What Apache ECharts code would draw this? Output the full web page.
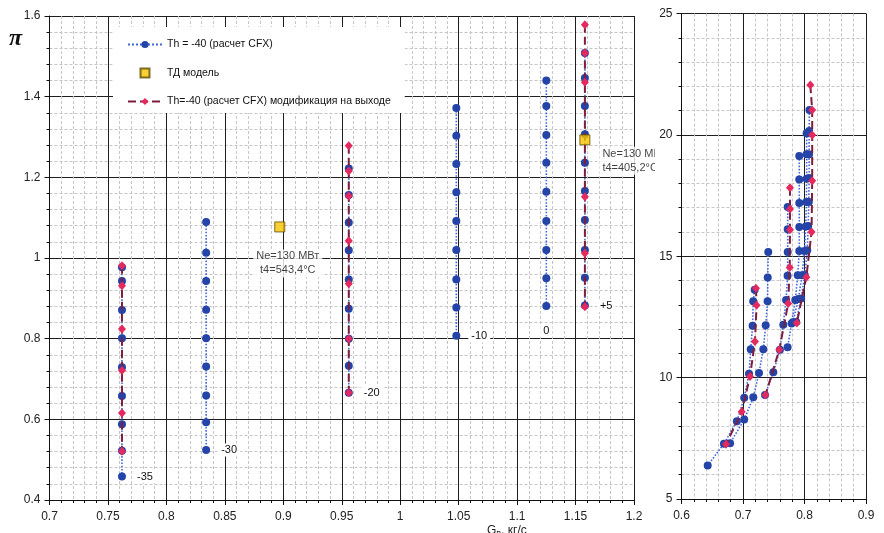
<!DOCTYPE html>
<html>
<head>
<meta charset="utf-8">
<script src="https://cdn.jsdelivr.net/npm/echarts@6/dist/echarts.min.js"></script>
<style>
html, body { margin: 0; padding: 0; background: #fff; }
#wrap { position: relative; width: 884px; height: 533px; overflow: hidden; background: #fff; }
#left { position: absolute; left: 0; top: 0; width: 655px; height: 533px; }
#right { position: absolute; left: 655px; top: 0; width: 229px; height: 533px; background: #fff; }
</style>
</head>
<body>
<div id="wrap"><div id="left"></div><div id="right"></div></div>
<script>
// ---- Left plot: pressure ratio vs air flow, one throttle line per inlet temperature ----
const tempLabels = ['-35', '-30', '-20', '-10', '0', '+5'];
const flowCfx = [0.762, 0.834, 0.956, 1.048, 1.125, 1.158];
const piCfxM35 = [0.977, 0.943, 0.871, 0.801, 0.729, 0.658, 0.588, 0.522, 0.458];
const piCfxM30 = [1.089, 1.013, 0.943, 0.872, 0.801, 0.731, 0.659, 0.593, 0.524];
const piCfxM20 = [1.222, 1.156, 1.088, 1.019, 0.947, 0.874, 0.800, 0.733, 0.666];
const piCfxM10 = [1.372, 1.303, 1.233, 1.163, 1.092, 1.020, 0.947, 0.877, 0.807];
const piCfx0   = [1.440, 1.377, 1.305, 1.236, 1.164, 1.092, 1.020, 0.950, 0.881];
const piCfxP5  = [1.508, 1.446, 1.377, 1.307, 1.236, 1.166, 1.094, 1.020, 0.951, 0.882];

// lines with the modified outlet
const flowMod = [0.762, 0.956, 1.158];
const piModM35 = [0.981, 0.931, 0.824, 0.721, 0.616, 0.521];
const piModM20 = [1.278, 1.216, 1.154, 1.043, 0.936, 0.800, 0.666];
const piModP5  = [1.578, 1.508, 1.436, 1.152, 1.012, 0.879];

// thermodynamic model points
const flowTd = [0.897, 1.158];
const piTd = [1.077, 1.293];
const tdNotes = ['Ne=130 МВт\nt4=543,4°C', 'Ne=130 МВт\nt4=405,2°C'];

// ---- Right plot: the same lines in absolute coordinates ----
const rxM35 = [0.719, 0.7166, 0.7156, 0.7125, 0.7098, 0.702, 0.690, 0.669, 0.6426];
const ryM35 = [13.62, 13.15, 12.14, 11.17, 10.16, 9.17, 8.20, 7.28, 6.38];
const rxM30 = [0.7411, 0.7402, 0.7400, 0.7369, 0.733, 0.726, 0.7167, 0.702, 0.679];
const ryM30 = [15.18, 14.12, 13.15, 12.16, 11.17, 10.19, 9.19, 8.27, 7.30];
const rxM20 = [0.7727, 0.7727, 0.7727, 0.7725, 0.770, 0.7655, 0.760, 0.7493, 0.7358];
const ryM20 = [17.03, 16.11, 15.17, 14.20, 13.20, 12.18, 11.15, 10.22, 9.28];
const rxM10 = [0.7915, 0.7915, 0.7915, 0.7915, 0.7915, 0.789, 0.785, 0.779, 0.7725];
const ryM10 = [19.13, 18.16, 17.19, 16.21, 15.22, 14.22, 13.20, 12.23, 11.25];
const rx0   = [0.8035, 0.8035, 0.8035, 0.803, 0.802, 0.800, 0.796, 0.790, 0.781];
const ry0   = [20.07, 19.20, 18.19, 17.23, 16.23, 15.22, 14.22, 13.24, 12.28];
const rxP5  = [0.808, 0.8075, 0.8075, 0.8075, 0.807, 0.806, 0.8045, 0.8005, 0.7945, 0.7865];
const ryP5  = [21.02, 20.16, 19.20, 18.22, 17.23, 16.25, 15.25, 14.22, 13.26, 12.29];

const rxModM35 = [0.7211, 0.7221, 0.7194, 0.7114, 0.6979, 0.6724];
const ryModM35 = [13.68, 12.98, 11.49, 10.05, 8.59, 7.26];
const rxModM20 = [0.7764, 0.7764, 0.7764, 0.776, 0.7735, 0.759, 0.7365];
const ryModM20 = [17.82, 16.95, 16.09, 14.54, 13.05, 11.15, 9.28];
const rxModP5  = [0.8095, 0.8125, 0.8125, 0.8125, 0.8115, 0.803, 0.7875];
const ryModP5  = [22.05, 21.02, 20.00, 18.11, 16.00, 14.14, 12.25];

const NAME_CFX = 'Th = -40 (расчет CFX)';
const NAME_TD = 'ТД модель';
const NAME_MOD = 'Th=-40 (расчет CFX) модификация на выходе';

const FONT = '"Liberation Sans", Arial, sans-serif';

function valueAxis(min, max, interval, margin) {
  return {
    type: 'value', min: min, max: max, interval: interval,
    axisLine: { show: true, onZero: false, lineStyle: { color: '#111', width: 1 } },
    axisTick: { show: true, length: 5, lineStyle: { color: '#111' } },
    minorTick: { show: true, splitNumber: 5, length: 3, lineStyle: { color: '#111' } },
    splitLine: { show: true, lineStyle: { color: '#1e1e1e', width: 1 } },
    minorSplitLine: { show: true, lineStyle: { color: '#c6c6c6', width: 1, type: [3, 2] } },
    axisLabel: { color: '#222', fontSize: 12, fontFamily: FONT, margin: margin }
  };
}

const blueStyle = {
  symbol: 'circle', symbolSize: 8,
  itemStyle: { color: '#2444a8' },
  lineStyle: { type: 'dotted', width: 1.6, color: '#4468dc' }
};
const redStyle = {
  symbol: 'diamond', symbolSize: [8, 9],
  itemStyle: { color: '#e4295f' },
  lineStyle: { type: [8, 4], width: 2, color: '#7e1e3e' }
};

function lineSeries(name, pts, style, z) {
  return Object.assign({
    type: 'line', name: name, data: pts, z: z,
    showAllSymbol: true, animation: false, clip: false
  }, style);
}

// ---- left chart ----
const cfxColumns = [piCfxM35, piCfxM30, piCfxM20, piCfxM10, piCfx0, piCfxP5];
const modColumns = [piModM35, piModM20, piModP5];

const leftSeries = [];
cfxColumns.forEach(function (col, i) {
  const pts = col.map(function (p, k) {
    const item = { value: [flowCfx[i], p] };
    if (k === col.length - 1) {
      const below = tempLabels[i] === '0';
      item.label = {
        show: true, formatter: tempLabels[i],
        position: below ? 'bottom' : 'right', distance: below ? 14 : 8,
        color: '#111', fontSize: 11, fontFamily: FONT,
        backgroundColor: '#fff', padding: [1, 3]
      };
    }
    return item;
  });
  leftSeries.push(lineSeries(NAME_CFX, pts, blueStyle, 2));
});
modColumns.forEach(function (col, i) {
  const pts = col.map(function (p) { return [flowMod[i], p]; });
  leftSeries.push(lineSeries(NAME_MOD, pts, redStyle, 3));
});
leftSeries.push({
  type: 'scatter', name: NAME_TD, z: 4, animation: false,
  symbol: 'rect', symbolSize: 10,
  itemStyle: { color: '#f7c600', borderColor: '#5c4b00', borderWidth: 1 },
  data: flowTd.map(function (g, i) {
    return {
      value: [g, piTd[i]],
      label: i === 0
        ? { show: true, formatter: tdNotes[i], position: 'bottom', distance: 17, offset: [8, 0],
            align: 'center', lineHeight: 14, color: '#111', fontSize: 11, fontFamily: FONT,
            backgroundColor: '#fff', padding: [0, 3] }
        : { show: true, formatter: tdNotes[i], position: 'right', distance: 9, offset: [0, 21],
            lineHeight: 14, color: '#111', fontSize: 11, fontFamily: FONT,
            backgroundColor: '#fff', padding: [0, 3] }
    };
  })
});

const leftChart = echarts.init(document.getElementById('left'), null, { renderer: 'canvas' });
leftChart.setOption({
  backgroundColor: '#fff',
  animation: false,
  grid: { left: 49.5, right: 21, top: 16, bottom: 33 },
  xAxis: valueAxis(0.7, 1.2, 0.05, 11),
  yAxis: valueAxis(0.4, 1.6, 0.2, 9),
  legend: {
    orient: 'vertical', left: 113, top: 27,
    padding: [12, 14, 6, 14], itemGap: 17.5, itemWidth: 34, itemHeight: 9,
    backgroundColor: '#fff', selectedMode: false, symbolKeepAspect: true,
    textStyle: { fontSize: 10.5, color: '#111', fontFamily: FONT },
    data: [
      NAME_CFX,
      { name: NAME_TD, icon: 'path://M0,0L10,0L10,10L0,10Z' },
      NAME_MOD
    ]
  },
  graphic: [
    { type: 'text', left: 9, top: 27, z: 10,
      style: { text: 'π', font: 'italic bold 24px "Liberation Serif", "DejaVu Serif", serif', fill: '#111' } },
    { type: 'text', left: 487, top: 525, z: 10,
      style: {
        text: '{m|G}{s|в}{m|, кг/с}',
        rich: {
          m: { fontSize: 12, fontFamily: FONT, fill: '#222' },
          s: { fontSize: 9, fontFamily: FONT, fill: '#222', padding: [6, 0, 0, 0] }
        }
      } }
  ],
  series: leftSeries
});

// ---- right chart ----
const rightBlue = [[rxM35, ryM35], [rxM30, ryM30], [rxM20, ryM20], [rxM10, ryM10], [rx0, ry0], [rxP5, ryP5]];
const rightRed = [[rxModM35, ryModM35], [rxModM20, ryModM20], [rxModP5, ryModP5]];
const rightSeries = [];
rightBlue.forEach(function (c) {
  rightSeries.push(lineSeries(NAME_CFX, c[0].map(function (x, k) { return [x, c[1][k]]; }), blueStyle, 2));
});
rightRed.forEach(function (c) {
  rightSeries.push(lineSeries(NAME_MOD, c[0].map(function (x, k) { return [x, c[1][k]]; }), redStyle, 3));
});

const rightChart = echarts.init(document.getElementById('right'), null, { renderer: 'canvas' });
rightChart.setOption({
  backgroundColor: '#fff',
  animation: false,
  grid: { left: 26.5, right: 18, top: 13.5, bottom: 34 },
  xAxis: valueAxis(0.6, 0.9, 0.1, 11),
  yAxis: valueAxis(5, 25, 5, 9),
  series: rightSeries
});
</script>
</body>
</html>
